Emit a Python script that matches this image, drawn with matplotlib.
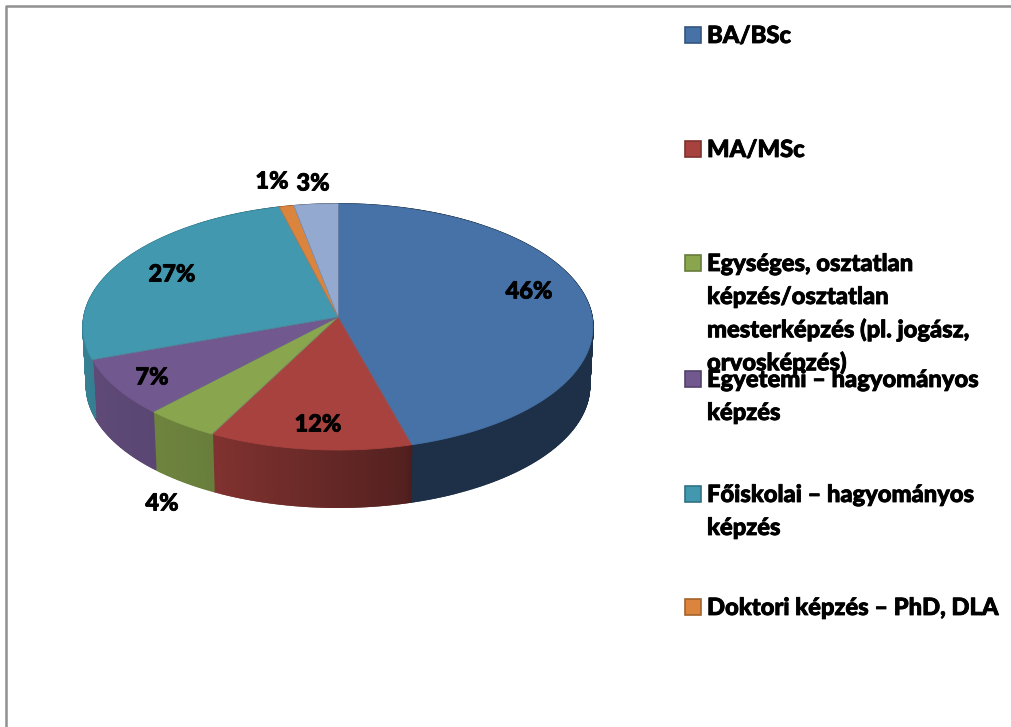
import matplotlib
matplotlib.use('Agg')
import matplotlib.pyplot as plt
import matplotlib.patheffects as pe
import numpy as np
from matplotlib.colors import to_rgb
from matplotlib.patches import Rectangle

categories = ['BA/BSc', 'MA/MSc',
              'Egységes, osztatlan\nképzés/osztatlan\nmesterképzés (pl. jogász,\norvosképzés)',
              'Egyetemi – hagyományos\nképzés', 'Főiskolai – hagyományos\nképzés',
              'Doktori képzés – PhD, DLA']
shares = [45.7, 11.9, 4.4, 7.49, 26.51, 1.0, 3.0]
colors = ['#4672A8', '#A8423F', '#89A54E', '#71588F', '#4198AF', '#DB843D', '#93A9CF']

label_xy = [(529, 291), (318, 424), (162, 503), (152, 377), (172, 274), (272, 181), (313, 183)]
legend_y = [35, 149, 263, 379, 494, 607]

CX, CY = 338, 317
RX, RY = 254, 122.2
PERSP = -0.0813
DEPTH = 59

# Lato bold is a bit light next to the original Calibri bold
heavier = [pe.withStroke(linewidth=0.6, foreground='black')]


def project(theta, scale=1.0, drop=0):
    # theta runs clockwise from 12 o'clock, slight perspective like the Excel 3D pie
    u, v = np.sin(theta) * scale, np.cos(theta) * -1 * scale
    den = 1 + PERSP * v
    return CX + RX * u / den, CY + RY * v / den + drop


def side_shade(x):
    return np.interp(x, [85, 215, 405, 413, 600], [0.84, 0.76, 0.50, 0.42, 0.42])


plt.rcParams['font.family'] = ['Lato', 'DejaVu Sans']
fig = plt.figure(figsize=(10.11, 7.27), dpi=100)
ax = fig.add_axes([0, 0, 1, 1])
ax.set_xlim(0, 1011)
ax.set_ylim(727, 0)
ax.axis('off')

# frame of the pasted picture
ax.plot([6, 6, 1011], [727, 6, 6], color='#909090', lw=1.8)

edges = np.radians(np.cumsum([0] + shares) * 3.6)

# sides first, tops go over them
for i, col in enumerate(colors):
    th = np.arange(edges[i], edges[i + 1] + 0.006, 0.006)
    th[-1] = edges[i + 1]
    rgb = np.array(to_rgb(col))
    for a, b in zip(th[:-1], th[1:]):
        x1, y1 = project(a)
        x2, y2 = project(b)
        x3, y3 = project(b, 0.987, DEPTH)
        x4, y4 = project(a, 0.987, DEPTH)
        c = rgb * side_shade((x1 + x2) / 2)
        ax.fill([x1, x2, x3, x4], [y1, y2, y3, y4], facecolor=c, edgecolor=c, lw=1.2, zorder=2)

for i, col in enumerate(colors):
    th = np.linspace(edges[i], edges[i + 1], 150)
    x, y = project(th)
    ax.fill(np.r_[CX, x], np.r_[CY, y], facecolor=col, edgecolor=col, lw=0.6, zorder=3)
    ax.plot([CX, x[0]], [CY, y[0]], color='#5f6f80', lw=0.5, alpha=0.6, zorder=4)

for share, (x, y) in zip(shares, label_xy):
    ax.text(x, y, f'{share:.0f}%', fontsize=17, fontweight='black', ha='center', va='center',
            color='black', zorder=5, path_effects=heavier)

for name, col, y in zip(categories, colors, legend_y):
    rgb = np.array(to_rgb(col))
    ax.add_patch(Rectangle((685, y - 8), 16, 16, facecolor=col, edgecolor=rgb * 0.75, lw=1.2, zorder=3))
    for n, line in enumerate(name.split('\n')):
        ax.text(707, y + 0.5 + n * 33, line, fontsize=17.1, fontweight='black', ha='left',
                va='center', color='black', zorder=5, path_effects=heavier)

fig.savefig('out.png', dpi=100)
